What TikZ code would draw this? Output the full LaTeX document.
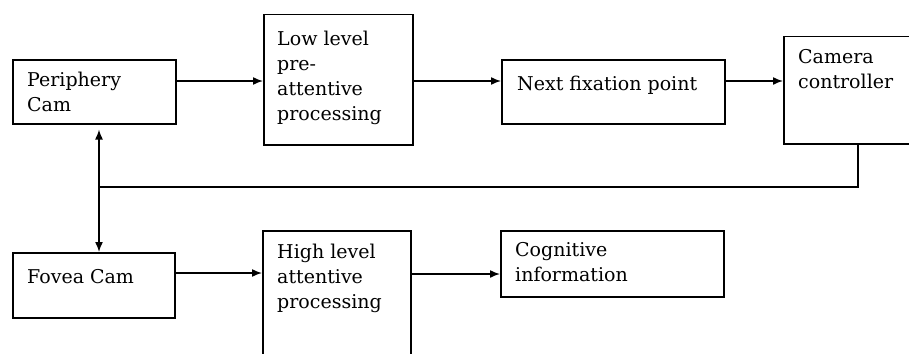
\documentclass[tikz,border=0pt]{standalone}
\usepackage{fontspec}
\setmainfont{DejaVu Serif}
\usetikzlibrary{calc,arrows.meta}
\begin{document}
\begin{tikzpicture}[x=1pt,y=-1pt,
  blk/.style={draw=black,line width=1.5pt,anchor=north west,inner sep=0pt,rectangle},
  txt/.style={anchor=north west,inner sep=0pt,align=left,font=\fontsize{19}{25}\selectfont},
  tip/.style={},
  arr/.style={line width=1.5pt,-{Latex[length=10pt,width=8pt]}},
  ln/.style={line width=1.5pt}]
\useasboundingbox (0,0) rectangle (909,353);
\clip (0,0) rectangle (909,353);
% rows
\coordinate (rowA) at (0,81);
\coordinate (rowB) at (0,273);
\coordinate (rowC) at (0,274);
\coordinate (vx) at (99,0);
\coordinate (fx) at (858,0);
\coordinate (fy) at (0,187);
% boxes
\node[blk,minimum width=163pt,minimum height=64pt] (per) at (12,59) {};
\node[blk,minimum width=149pt,minimum height=130pt] (low) at (263,14) {};
\node[blk,minimum width=223pt,minimum height=64pt] (nxt) at (501,59) {};
\node[blk,minimum width=160pt,minimum height=107pt] (cam) at (783,36) {};
\node[blk,minimum width=162pt,minimum height=65pt] (fov) at (12,252) {};
\node[blk,minimum width=148pt,minimum height=140pt] (hig) at (262,230) {};
\node[blk,minimum width=223pt,minimum height=66pt] (cog) at (500,230) {};
% texts
\node[txt] (tper) at ($(per.north west)+(15,27-17.5)$) {\strut Periphery\\Cam};
\node[txt] (tlow) at ($(low.north west)+(14,31-17.5)$) {\strut Low level\\pre-\\attentive\\processing};
\node[txt] (tnxt) at ($(nxt.north west)+(16,31-17.5)$) {\strut Next fixation point};
\node[txt] (tcam) at ($(cam.north west)+(15,27-17.5)$) {\strut Camera\\controller};
\node[txt] (tfov) at ($(fov.north west)+(15,31-17.5)$) {\strut Fovea Cam};
\node[txt] (thig) at ($(hig.north west)+(15,28-17.5)$) {\strut High level\\attentive\\processing};
\node[txt] (tcog) at ($(cog.north west)+(15,26-17.5)$) {\strut Cognitive\\information};
% connectors
\draw[arr] (per.east |- rowA) -- (low.west |- rowA);
\draw[arr] (low.east |- rowA) -- (nxt.west |- rowA);
\draw[arr] (nxt.east |- rowA) -- (cam.west |- rowA);
\draw[arr] (fov.east |- rowB) -- (hig.west |- rowB);
\draw[arr] (hig.east |- rowC) -- (cog.west |- rowC);
\coordinate (fbend) at (vx |- fy);
\draw[ln] (cam.south -| fx) |- (fbend);
\draw[line width=1.5pt,{Latex[length=10pt,width=8pt]}-{Latex[length=10pt,width=8pt]},shorten <=5pt] (per.south -| vx) -- (fov.north -| vx);
\end{tikzpicture}
\end{document}
